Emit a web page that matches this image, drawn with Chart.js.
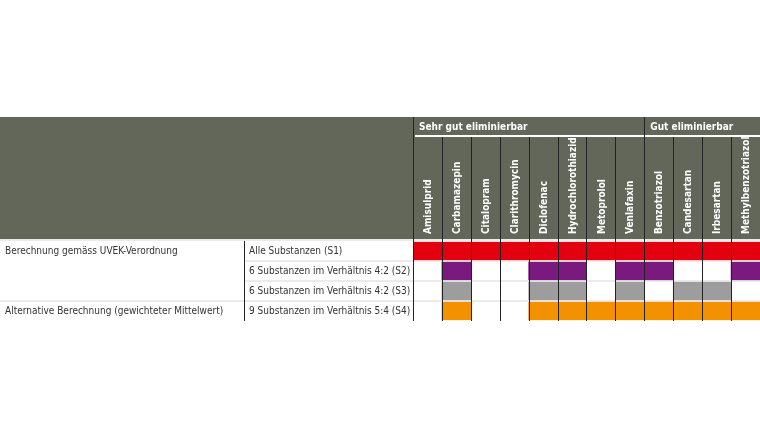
<!DOCTYPE html>
<html>
<head>
<meta charset="utf-8">
<script src="https://cdn.jsdelivr.net/npm/chart.js@4"></script>
<style>body{margin:0;background:#fff}canvas{display:block}</style>
</head>
<body>
<canvas id="c" width="760" height="440"></canvas>
<script>
const substances = ["Amisulprid","Carbamazepin","Citalopram","Clarithromycin","Diclofenac","Hydrochlorothiazid","Metoprolol","Venlafaxin","Benzotriazol","Candesartan","Irbesartan","Methylbenzotriazol"];
const groups = [["Sehr gut eliminierbar", 0, 7], ["Gut eliminierbar", 8, 11]];
const rowLabels = ["Alle Substanzen (S1)","6 Substanzen im Verhältnis 4:2 (S2)","6 Substanzen im Verhältnis 4:2 (S3)","9 Substanzen im Verhältnis 5:4 (S4)"];
const methodLabels = [["Berechnung gemäss UVEK-Verordnung", 0], ["Alternative Berechnung (gewichteter Mittelwert)", 3]];
const rowColors = ["#e3000f","#7b1a7e","#9d9d9d","#f39100"];
// 1 = substance included in the scenario
const s1 = [1,1,1,1,1,1,1,1,1,1,1,1];
const s2 = [0,1,0,0,1,1,0,1,1,0,0,1];
const s3 = [0,1,0,0,1,1,0,1,0,1,1,0];
const s4 = [0,1,0,0,1,1,1,1,1,1,1,1];
const rows = [s1, s2, s3, s4];

const HEAD = "#62675a";
const FONT = "'DejaVu Sans Condensed', 'Liberation Sans Narrow', sans-serif";

const tablePlugin = {
  id: "table",
  beforeDatasetsDraw(chart) {
    const ctx = chart.ctx, x = chart.scales.x, y = chart.scales.y;
    const left = x.left, right = x.right;
    const half = (x.getPixelForValue(1) - x.getPixelForValue(0)) / 2;
    ctx.save();
    // header band
    ctx.fillStyle = HEAD;
    ctx.fillRect(0, 117, 760, 122);
    ctx.fillStyle = "#fff";
    ctx.fillRect(left + 2, 135, right - left, 2);
    // row separators
    ctx.fillStyle = "#ebebeb";
    ctx.fillRect(0, 239, 760, 2);
    for (let r = 1; r < rows.length; r++) {
      const py = y.getPixelForValue(r);
      ctx.fillRect(r === 3 ? 0 : 245, py - 1, 760, 2);
    }
    // group titles
    ctx.font = "bold 10px " + FONT;
    ctx.textBaseline = "middle";
    groups.forEach(([t, a, b]) => {
      ctx.fillStyle = "#fff";
      ctx.fillText(t, x.getPixelForValue(a) - half + 6, 127);
    });
    // substance labels
    substances.forEach((s, i) => {
      ctx.save();
      ctx.translate(x.getPixelForValue(i) + 1, 234);
      ctx.rotate(-Math.PI / 2);
      ctx.textAlign = "left";
      ctx.fillStyle = "#fff";
      ctx.fillText(s, 0, 0);
      ctx.restore();
    });
    // left labels
    ctx.font = "10px " + FONT;
    ctx.fillStyle = "#333";
    rowLabels.forEach((t, r) => ctx.fillText(t, 249, y.getPixelForValue(r + 0.5)));
    methodLabels.forEach(([t, r]) => ctx.fillText(t, 5, y.getPixelForValue(r + 0.5)));
    ctx.restore();
  },
  afterDatasetsDraw(chart) {
    const ctx = chart.ctx, x = chart.scales.x, y = chart.scales.y;
    const half = (x.getPixelForValue(1) - x.getPixelForValue(0)) / 2;
    ctx.save();
    ctx.strokeStyle = "#222";
    ctx.lineWidth = 1;
    for (let i = 0; i <= substances.length; i++) {
      const px = Math.round(x.getPixelForValue(i) - half) + 0.5;
      const groupEdge = groups.some(g => g[1] === i);
      ctx.beginPath();
      ctx.moveTo(px, i === 0 || groupEdge ? 117 : 137);
      ctx.lineTo(px, y.bottom);
      ctx.stroke();
    }
    ctx.beginPath();
    ctx.moveTo(244.5, y.top);
    ctx.lineTo(244.5, y.bottom);
    ctx.stroke();
    ctx.restore();
  }
};

new Chart(document.getElementById("c"), {
  type: "bar",
  data: {
    labels: substances,
    datasets: rows.map((vals, r) => ({
      label: rowLabels[r],
      data: vals.map(v => v ? [r + 0.06, r + 0.94] : null),
      backgroundColor: rowColors[r],
      barPercentage: 1,
      categoryPercentage: 1,
      grouped: false
    }))
  },
  options: {
    responsive: false,
    animation: false,
    layout: { padding: { left: 413, right: 0, top: 241, bottom: 119 } },
    plugins: { legend: { display: false }, tooltip: { enabled: false } },
    scales: {
      x: { display: false },
      y: { display: false, min: 0, max: 4, reverse: true }
    }
  },
  plugins: [tablePlugin]
});
</script>
</body>
</html>
